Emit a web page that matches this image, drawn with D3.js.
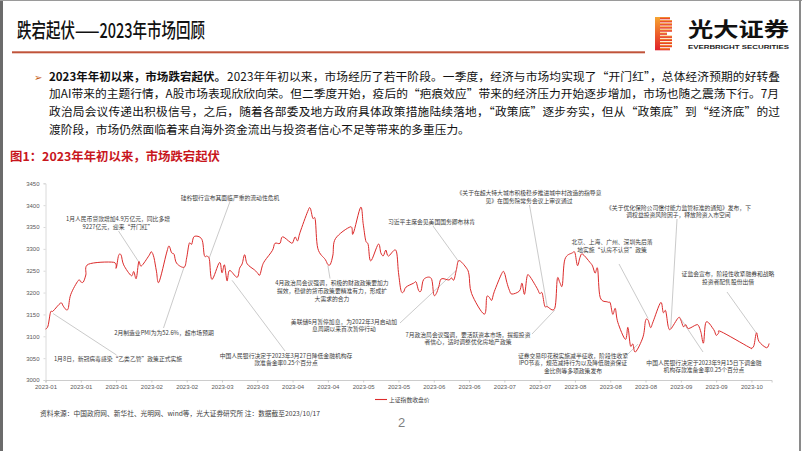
<!DOCTYPE html>
<html><head><meta charset="utf-8">
<script src="https://cdn.jsdelivr.net/npm/d3@7"></script>
<style>
html,body{margin:0;padding:0;background:#fff;}
svg{display:block;}
text{font-family:"Noto Sans CJK SC","Noto Sans",sans-serif;}
</style></head><body>
<svg id="c" width="802" height="451"></svg>
<script>
// ---------------- data ----------------
const tradeDates = [
"2023-01-03","2023-01-04","2023-01-05","2023-01-06","2023-01-09","2023-01-10","2023-01-11","2023-01-12","2023-01-13","2023-01-16","2023-01-17","2023-01-18","2023-01-19","2023-01-20","2023-01-30","2023-01-31",
"2023-02-01","2023-02-02","2023-02-03","2023-02-06","2023-02-07","2023-02-08","2023-02-09","2023-02-10","2023-02-13","2023-02-14","2023-02-15","2023-02-16","2023-02-17","2023-02-20","2023-02-21","2023-02-22","2023-02-23","2023-02-24","2023-02-27","2023-02-28",
"2023-03-01","2023-03-02","2023-03-03","2023-03-06","2023-03-07","2023-03-08","2023-03-09","2023-03-10","2023-03-13","2023-03-14","2023-03-15","2023-03-16","2023-03-17","2023-03-20","2023-03-21","2023-03-22","2023-03-23","2023-03-24","2023-03-27","2023-03-28","2023-03-29","2023-03-30","2023-03-31",
"2023-04-03","2023-04-04","2023-04-06","2023-04-07","2023-04-10","2023-04-11","2023-04-12","2023-04-13","2023-04-14","2023-04-17","2023-04-18","2023-04-19","2023-04-20","2023-04-21","2023-04-24","2023-04-25","2023-04-26","2023-04-27","2023-04-28",
"2023-05-04","2023-05-05","2023-05-08","2023-05-09","2023-05-10","2023-05-11","2023-05-12","2023-05-15","2023-05-16","2023-05-17","2023-05-18","2023-05-19","2023-05-22","2023-05-23","2023-05-24","2023-05-25","2023-05-26","2023-05-29","2023-05-30","2023-05-31",
"2023-06-01","2023-06-02","2023-06-05","2023-06-06","2023-06-07","2023-06-08","2023-06-09","2023-06-12","2023-06-13","2023-06-14","2023-06-15","2023-06-16","2023-06-19","2023-06-20","2023-06-21","2023-06-26","2023-06-27","2023-06-28","2023-06-29","2023-06-30",
"2023-07-03","2023-07-04","2023-07-05","2023-07-06","2023-07-07","2023-07-10","2023-07-11","2023-07-12","2023-07-13","2023-07-14","2023-07-17","2023-07-18","2023-07-19","2023-07-20","2023-07-21","2023-07-24","2023-07-25","2023-07-26","2023-07-27","2023-07-28","2023-07-31",
"2023-08-01","2023-08-02","2023-08-03","2023-08-04","2023-08-07","2023-08-08","2023-08-09","2023-08-10","2023-08-11","2023-08-14","2023-08-15","2023-08-16","2023-08-17","2023-08-18","2023-08-21","2023-08-22","2023-08-23","2023-08-24","2023-08-25","2023-08-28","2023-08-29","2023-08-30","2023-08-31",
"2023-09-01","2023-09-04","2023-09-05","2023-09-06","2023-09-07","2023-09-08","2023-09-11","2023-09-12","2023-09-13","2023-09-14","2023-09-15","2023-09-18","2023-09-19","2023-09-20","2023-09-21","2023-09-22","2023-09-25","2023-09-26","2023-09-27","2023-09-28",
"2023-10-09","2023-10-10","2023-10-11","2023-10-12","2023-10-13","2023-10-16","2023-10-17"
];
const closes = [
3116.5,3123.5,3155.2,3157.6,3176.1,3169.5,3161.8,3163.5,3195.3,3227.6,3224.4,3224.2,3240.3,3264.8,3269.3,3255.7,
3284.9,3285.7,3263.4,3238.7,3248.1,3232.1,3270.4,3260.7,3284.2,3293.3,3280.5,3249.0,3224.0,3290.3,3306.5,3291.2,3287.5,3267.2,3258.0,3279.6,
3312.4,3310.7,3328.4,3322.0,3285.1,3283.3,3276.1,3230.1,3268.7,3245.3,3263.3,3226.9,3250.6,3234.9,3255.7,3265.7,3286.7,3265.7,3251.4,3245.4,3240.1,3261.3,3272.9,
3296.4,3312.6,3312.6,3327.7,3315.4,3313.6,3327.2,3318.4,3338.2,3385.6,3393.3,3370.1,3367.0,3301.3,3275.4,3264.1,3264.9,3285.9,3323.3,
3350.5,3334.5,3395.0,3357.7,3319.2,3309.6,3272.4,3310.7,3291.0,3284.2,3297.3,3283.5,3296.5,3246.2,3204.8,3201.3,3212.5,3221.5,3224.2,3204.6,
3204.6,3230.1,3232.4,3195.3,3197.8,3213.6,3231.4,3228.8,3233.7,3229.0,3253.0,3273.3,3255.8,3240.4,3197.9,3150.6,3189.4,3189.4,3182.4,3202.1,
3244.0,3245.4,3223.0,3205.2,3196.6,3203.7,3221.4,3196.1,3236.5,3237.7,3209.6,3197.8,3198.8,3169.5,3167.8,3164.2,3231.5,3223.0,3216.7,3275.9,3291.0,
3291.0,3261.7,3280.5,3288.1,3268.8,3260.6,3244.5,3254.6,3189.3,3178.4,3176.2,3150.1,3163.7,3132.0,3093.0,3120.3,3078.4,3082.2,3064.1,3098.6,3135.9,3137.1,3119.9,
3133.3,3177.1,3154.4,3158.1,3122.4,3116.7,3142.4,3137.1,3122.0,3126.6,3117.7,3125.9,3124.5,3108.6,3084.7,3132.4,3115.6,3102.3,3107.3,3110.5,
3075.2,3072.8,3079.0,3107.9,3088.1,3073.8,3083.5
];
const seriesName = "上证指数收盘价";
const yTicks = [3000,3050,3100,3150,3200,3250,3300,3350,3400,3450];
const xTickDates = ["2023-01-03","2023-01-17","2023-01-31","2023-02-14","2023-02-28","2023-03-14","2023-03-28","2023-04-11","2023-04-25","2023-05-09","2023-05-23","2023-06-06","2023-06-20","2023-07-04","2023-07-18","2023-08-01","2023-08-15","2023-08-29","2023-09-12","2023-09-26","2023-10-10"];

// event annotations: text lines, point on the series, label layout
const annotations = [
 {lines:["1月人民币贷款增加4.9万亿元，同比多增","9227亿元，迎来“开门红”"], date:"2023-02-09", value:3270, cx:118, cy:218.5, from:[118.5,231]},
 {lines:["硅谷银行宣布其面临严重的流动性危机"], date:"2023-03-09", value:3280, cx:230, cy:197.8, from:[230,201.5]},
 {lines:["2月制造业PMI为为52.6%，超市场预期"], date:"2023-02-27", value:3259, cx:164, cy:332.3, from:[163.5,328]},
 {lines:["1月8日，新冠病毒感染“乙类乙管”政策正式实施"], date:"2023-01-06", value:3152, cx:118, cy:358.5, from:[116.5,355]},
 {lines:["中国人民银行决定于2023年3月27日降低金融机构存","款准备金率0.25个百分点"], date:"2023-03-18", value:3228, cx:286, cy:355, from:[285,351]},
 {lines:["4月政治局会议强调，积极的财政政策要加力","提效，稳健的货币政策要精准有力，形成扩","大需求的合力"], date:"2023-04-25", value:3262, cx:332, cy:282.7, from:[330,278.5]},
 {lines:["美联储6月暂停加息，为2022年3月启动加","息周期以来首次暂停行动"], date:"2023-06-15", value:3251, cx:344, cy:321, from:[400,323]},
 {lines:["习近平主席会见美国国务卿布林肯"], date:"2023-06-16", value:3270, cx:431.5, cy:221.5, from:[433,226]},
 {lines:["7月政治局会议强调，要活跃资本市场，提振投资","者信心，适时调整优化房地产政策"], date:"2023-07-24", value:3160, cx:468, cy:334, from:[532,334]},
 {lines:["《关于在超大特大城市积极稳步推进城中村改造的指导意","见》在国务院常务会议上审议通过"], date:"2023-07-21", value:3167, cx:529, cy:192.5, from:[529.5,205]},
 {lines:["证券交易印花税实施减半征收，阶段性收紧","IPO节奏，规范减持行为以及降低融资保证","金比例等多项政策发布"], date:"2023-08-26", value:3082, cx:573, cy:355, from:[627,355]},
 {lines:["北京、上海、广州、深圳先后落","地实施“认房不认贷”政策"], date:"2023-08-30", value:3141, cx:612, cy:241.7, from:[619,264]},
 {lines:["《关于优化保险公司偿付能力监管标准的通知》发布，下","调权益投资风险因子，释放险资入市空间"], date:"2023-09-08", value:3119, cx:678.5, cy:207, from:[677,219]},
 {lines:["证监会宣布，阶段性收紧融券和战略","投资者配售股份出借"], date:"2023-10-12", value:3107, cx:728, cy:273.3, from:[727,292]},
 {lines:["中国人民银行决定于2023年9月15日下调金融","机构存款准备金率0.25个百分点"], date:"2023-09-12", value:3140, cx:704, cy:362, from:[703,352]}
];

// ---------------- drawing ----------------
const parse = d3.timeParse("%Y-%m-%d");
const series = tradeDates.map((d,i)=>({date:parse(d), value:closes[i]}));
const svg = d3.select("#c");

// slide frame
svg.append("rect").attr("x",0).attr("y",0).attr("width",802).attr("height",451).attr("fill","#fff");
svg.append("rect").attr("x",0).attr("y",0).attr("width",3).attr("height",451).attr("fill","#6b6b6b");
svg.append("rect").attr("x",0).attr("y",0).attr("width",802).attr("height",1).attr("fill","#9a9a9a");
svg.append("rect").attr("x",799).attr("y",0).attr("width",2).attr("height",451).attr("fill","#8a8a8a");

// header
svg.append("text").attr("x",17).attr("y",37.5).attr("font-size",20).attr("font-weight",500)
  .attr("fill","#111").attr("textLength",188).attr("lengthAdjust","spacingAndGlyphs")
  .text("跌宕起伏——2023年市场回顾");
svg.append("rect").attr("x",12).attr("y",51.3).attr("width",633).attr("height",2).attr("fill","#C0533A");

// logo
const lg = svg.append("g");
const grad = svg.append("defs").append("linearGradient").attr("id","lgGrad").attr("x1",0).attr("y1",0).attr("x2",0).attr("y2",1);
grad.append("stop").attr("offset","0%").attr("stop-color","#F6A531");
grad.append("stop").attr("offset","55%").attr("stop-color","#EC5A2A");
grad.append("stop").attr("offset","100%").attr("stop-color","#E0232B");
const barsY = d3.range(11);
lg.selectAll("rect.b").data(barsY).join("rect")
  .attr("x",655).attr("y",i=>17+i*3.1).attr("height",2.3)
  .attr("width",i=> (i===5? 12 : (i===0||i===10? 15 : 17)))
  .attr("fill","url(#lgGrad)");
lg.append("rect").attr("x",655).attr("y",17).attr("width",5).attr("height",33).attr("fill","url(#lgGrad)");
svg.append("text").attr("x",688).attr("y",37).attr("font-size",20).attr("font-weight",700).attr("fill","#111")
  .attr("textLength",101).attr("lengthAdjust","spacingAndGlyphs").text("光大证券");
svg.append("text").attr("x",688).attr("y",48.5).attr("font-size",6.2).attr("font-weight",700).attr("fill","#222")
  .style("font-family","'Liberation Sans',Arial,sans-serif")
  .attr("textLength",101).attr("lengthAdjust","spacingAndGlyphs").text("EVERBRIGHT SECURITIES");

// body paragraph
svg.append("text").attr("x",34).attr("y",80.5).attr("font-size",10).attr("fill","#C55A11")
  .style("font-family","'DejaVu Sans',sans-serif").text("➢");
const bodyFs = 11.7;
svg.append("text").attr("x",49).attr("y",80.5).attr("font-size",bodyFs).attr("font-weight",700).attr("fill","#111")
  .attr("textLength",177).attr("lengthAdjust","spacingAndGlyphs").text("2023年年初以来，市场跌宕起伏。");
const bodyLines = [
 {x:227, y:80.5, len:553, t:"2023年年初以来，市场经历了若干阶段。一季度，经济与市场均实现了“开门红”，总体经济预期的好转叠"},
 {x:49, y:98.2, len:730, t:"加AI带来的主题行情，A股市场表现欣欣向荣。但二季度开始，疫后的“疤痕效应”带来的经济压力开始逐步增加，市场也随之震荡下行。7月"},
 {x:49, y:116, len:731, t:"政治局会议传递出积极信号，之后，随着各部委及地方政府具体政策措施陆续落地，“政策底”逐步夯实，但从“政策底”到“经济底”的过"},
 {x:49, y:133.7, len:null, t:"渡阶段，市场仍然面临着来自海外资金流出与投资者信心不足等带来的多重压力。"}
];
bodyLines.forEach(l=>{
  const t = svg.append("text").attr("x",l.x).attr("y",l.y).attr("font-size",bodyFs).attr("fill","#111").text(l.t);
  if(l.len) t.attr("textLength",l.len).attr("lengthAdjust","spacing");
});

// figure title
svg.append("text").attr("x",10).attr("y",161).attr("font-size",12).attr("font-weight",700).attr("fill","#C8161D")
  .attr("textLength",210).attr("lengthAdjust","spacingAndGlyphs").text("图1：2023年年初以来，市场跌宕起伏");

// scales
const x = d3.scaleTime().domain([parse("2023-01-03"), parse("2023-10-18")]).range([45.5, 771.6]);
const y = d3.scaleLinear().domain([3000,3450]).range([380,183.3]);

// axes
const gx = svg.append("g").attr("transform","translate(0,380)")
  .call(d3.axisBottom(x).tickValues(xTickDates.map(parse)).tickFormat(d3.timeFormat("%Y-%m")).tickSize(2.5).tickPadding(2.5));
gx.select(".domain").attr("stroke","#BFBFBF").attr("stroke-width",0.8);
gx.selectAll(".tick line").attr("stroke","#BFBFBF").attr("stroke-width",0.8);
gx.selectAll(".tick text").attr("font-size",6).attr("fill","#595959")
  .style("font-family","'Liberation Sans',Arial,sans-serif");

const gy = svg.append("g").attr("transform","translate(45.5,0)")
  .call(d3.axisLeft(y).tickValues(yTicks).tickFormat(d3.format("d")).tickSize(2).tickPadding(4));
gy.select(".domain").attr("stroke","#D0D0D0").attr("stroke-width",0.8);
gy.selectAll(".tick line").attr("stroke","#D0D0D0").attr("stroke-width",0.8);
gy.selectAll(".tick text").attr("font-size",6).attr("fill","#595959")
  .style("font-family","'Liberation Sans',Arial,sans-serif");

// leader lines
const ag = svg.append("g");
annotations.forEach(a=>{
  ag.append("line").attr("x1",a.from[0]).attr("y1",a.from[1])
    .attr("x2",x(parse(a.date))).attr("y2",y(a.value))
    .attr("stroke","#A6A6A6").attr("stroke-width",0.6);
});

// series line
const lineGen = d3.line().x(d=>x(d.date)).y(d=>y(d.value)).curve(d3.curveCardinal.tension(0));
svg.append("path").datum(series).attr("d",lineGen).attr("fill","none")
  .attr("stroke","#DC2B2B").attr("stroke-width",1);

// annotation labels
annotations.forEach(a=>{
  a.lines.forEach((ln,i)=>{
    ag.append("text").attr("x",a.cx).attr("y",a.cy + i*7.9).attr("text-anchor","middle")
      .attr("dominant-baseline","central").attr("font-size",5.8).attr("fill","#3A3A3A").text(ln);
  });
});

// legend
svg.append("line").attr("x1",375).attr("x2",387).attr("y1",399.5).attr("y2",399.5).attr("stroke","#DC2B2B").attr("stroke-width",1.1);
svg.append("text").attr("x",389).attr("y",399.5).attr("dominant-baseline","central").attr("font-size",5.8).attr("fill","#404040").text(seriesName);

// source note
svg.append("text").attr("x",40).attr("y",412.5).attr("dominant-baseline","central").attr("font-size",6.8).attr("fill","#404040")
  .attr("textLength",280).attr("lengthAdjust","spacingAndGlyphs")
  .text("资料来源：中国政府网、新华社、光明网、wind等，光大证券研究所 注：数据截至2023/10/17");

// page number
svg.append("text").attr("x",401.5).attr("y",427).attr("text-anchor","middle").attr("font-size",13).attr("font-weight",300)
  .attr("fill","#7F7F7F").style("font-family","'Liberation Sans',Arial,sans-serif").text("2");
</script>
</body></html>
